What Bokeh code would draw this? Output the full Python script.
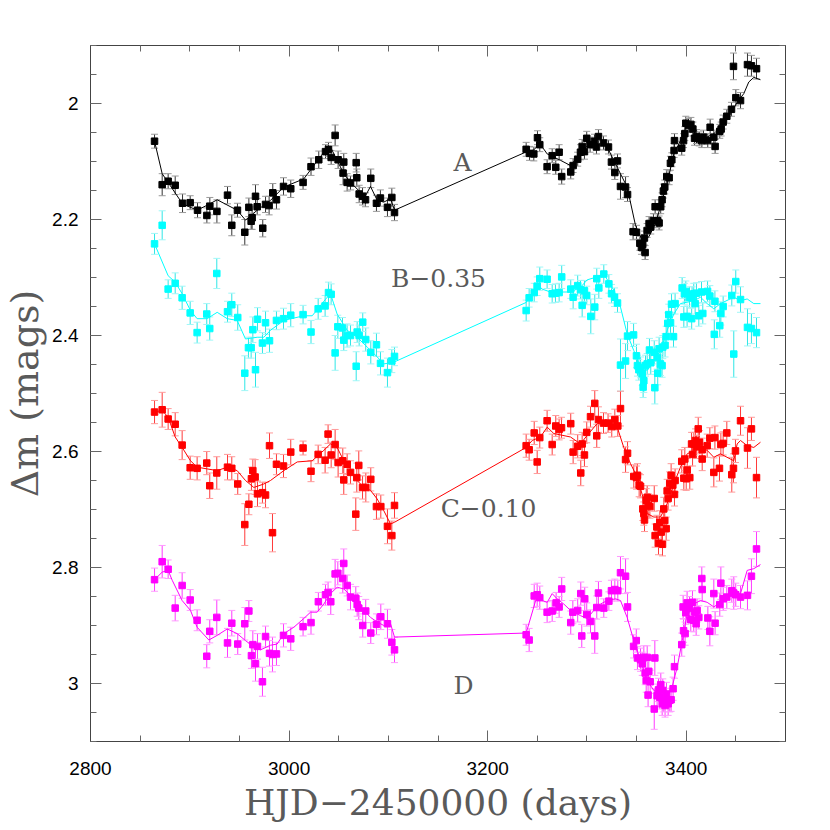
from bokeh.plotting import figure
from bokeh.models import (ColumnDataSource, Range1d, FixedTicker, LinearAxis,
                          Whisker, TeeHead, CustomJSTickFormatter)
from bokeh.core.properties import value
from bokeh.embed import file_html
from bokeh.resources import INLINE

# ---------------- data: (HJD-2450000, delta m, error) ----------------
A_s1 = [(2864.5,2.065,.012),(2872.2,2.140,.019),(2878.2,2.134,.013),(2885.3,2.141,.016),(2892.7,2.172,.016),
        (2900.4,2.171,.012),(2907.8,2.184,.013),(2917.2,2.193,.013),(2920.2,2.177,.015),(2927.3,2.186,.020),
        (2938.0,2.158,.015),(2942.3,2.210,.018),(2948.0,2.184,.012),(2955.4,2.222,.022),(2959.5,2.179,.016),
        (2961.8,2.203,.014),(2962.8,2.197,.020),(2966.2,2.160,.020),(2967.9,2.178,.014),(2973.5,2.215,.015),
        (2976.3,2.174,.014),(2979.9,2.176,.016),(2983.6,2.154,.016),(2987.3,2.166,.016),(2994.4,2.143,.015),
        (3001.7,2.147,.015),(3014.1,2.136,.012),(3022.1,2.109,.015),(3029.9,2.097,.015),(3036.7,2.083,.012),
        (3039.7,2.079,.012),(3042.4,2.093,.012),(3046.4,2.055,.018),(3049.4,2.097,.015),(3054.4,2.120,.020),
        (3055.1,2.101,.015),(3058.5,2.136,.015),(3061.9,2.137,.012),(3067.6,2.102,.016),(3068.2,2.128,.015),
        (3070.6,2.156,.015),(3074.0,2.160,.015),(3077.0,2.166,.012),(3082.3,2.129,.016),(3088.0,2.172,.014),
        (3092.0,2.163,.014),(3099.1,2.179,.016),(3103.5,2.162,.016),(3106.2,2.188,.014)]
A_s2 = [(3238.8,2.079,.012),(3242.2,2.086,.012),(3246.5,2.087,.012),(3250.2,2.059,.012),(3252.5,2.071,.012),
        (3259.9,2.109,.012),(3265.0,2.090,.012),(3268.6,2.110,.012),(3272.0,2.084,.013),(3274.6,2.126,.013),
        (3283.7,2.118,.012),(3286.1,2.107,.012),(3290.7,2.096,.012),(3293.5,2.084,.013),(3295.2,2.074,.012),
        (3297.5,2.083,.013),(3299.8,2.060,.012),(3303.2,2.071,.013),(3307.6,2.065,.012),(3309.6,2.075,.012),
        (3311.6,2.057,.012),(3316.7,2.068,.012),(3321.7,2.075,.012),(3324.7,2.101,.012),(3328.1,2.119,.012),
        (3330.8,2.099,.012),(3333.8,2.143,.022),(3338.9,2.144,.018),(3340.9,2.157,.012),(3346.5,2.221,.014),
        (3349.9,2.222,.012),(3353.3,2.241,.012),(3354.9,2.248,.012),(3356.2,2.243,.012),(3357.9,2.232,.012),
        (3358.6,2.257,.012),(3360.6,2.219,.012),(3362.6,2.207,.012),(3364.3,2.213,.012),(3367.0,2.202,.012),
        (3368.7,2.178,.012),(3371.3,2.202,.012),(3372.7,2.206,.012),(3374.3,2.178,.012),(3375.7,2.166,.012),
        (3377.0,2.151,.012),(3378.4,2.144,.012),(3380.4,2.126,.012),(3382.8,2.128,.012),(3384.1,2.103,.012),
        (3385.5,2.097,.012),(3387.8,2.081,.012),(3388.2,2.064,.012),(3395.5,2.077,.012),(3397.3,2.064,.012),
        (3398.6,2.052,.012),(3399.6,2.034,.012),(3402.3,2.038,.012),(3404.7,2.036,.012),(3406.7,2.044,.012),
        (3408.4,2.060,.012),(3410.4,2.057,.012),(3413.1,2.061,.012),(3415.7,2.064,.012),(3417.4,2.058,.012),
        (3421.7,2.064,.012),(3424.1,2.041,.014),(3427.8,2.058,.012),(3429.1,2.074,.012),(3433.8,2.048,.012),
        (3435.2,2.044,.012),(3437.2,2.032,.012),(3440.9,2.022,.012),(3445.6,2.010,.012),(3447.6,1.936,.023),
        (3450.0,1.990,.014),(3454.7,1.995,.014),(3461.7,1.933,.020),(3465.7,1.935,.018),(3470.8,1.940,.018)]
A_model = [(2864.5,2.065),(2872.2,2.121),(2892.7,2.173),(2907.4,2.184),(2920.2,2.173),(2927.6,2.166),
           (2947.7,2.184),(2956.1,2.201),(2967.9,2.184),(2981.3,2.167),(2994.7,2.144),(3014.8,2.130),
           (3035.0,2.084),(3041.7,2.075),(3048.4,2.098),(3055.1,2.121),(3061.9,2.136),(3071.9,2.153),
           (3077.0,2.159),(3082.0,2.143),(3088.8,2.167),(3095.4,2.170),(3102.2,2.164),(3106.2,2.184),
           (3238.1,2.084),(3246.5,2.080),(3252.5,2.069),(3260.0,2.087),(3273.4,2.098),(3283.5,2.107),
           (3296.9,2.078),(3312.0,2.058),(3320.4,2.075),(3330.5,2.110),(3340.5,2.144),(3348.9,2.210),
           (3355.7,2.236),(3362.3,2.230),(3369.1,2.207),(3375.8,2.167),(3380.8,2.138),(3387.5,2.087),
           (3396.0,2.058),(3401.0,2.035),(3407.6,2.049),(3417.7,2.061),(3427.8,2.052),(3436.2,2.038),
           (3444.6,2.018),(3451.3,1.998),(3458.0,1.983),(3463.0,1.963),(3468.1,1.955),(3474.8,1.959)]

B_s1 = [(2864.5,2.242,.018),(2872.2,2.210,.025),(2878.2,2.320,.016),(2885.3,2.310,.018),(2892.3,2.335,.020),
        (2900.4,2.361,.020),(2907.4,2.395,.018),(2917.1,2.363,.018),(2920.1,2.388,.020),(2927.2,2.293,.026),
        (2938.0,2.359,.018),(2942.3,2.347,.020),(2948.3,2.369,.022),(2955.4,2.465,.030),(2959.1,2.421,.018),
        (2961.8,2.421,.018),(2963.5,2.390,.022),(2966.2,2.459,.030),(2968.2,2.372,.020),(2973.2,2.413,.018),
        (2976.3,2.378,.020),(2980.3,2.409,.020),(2987.3,2.374,.016),(2994.4,2.371,.018),(3001.7,2.365,.020),
        (3014.1,2.364,.016),(3022.1,2.394,.020),(3029.3,2.354,.018),(3036.3,2.349,.018),(3039.7,2.326,.018),
        (3042.4,2.329,.018),(3046.4,2.430,.030),(3049.1,2.385,.020),(3053.8,2.387,.018),(3055.1,2.408,.018),
        (3058.5,2.400,.020),(3061.9,2.400,.018),(3067.6,2.453,.025),(3068.6,2.394,.018),(3070.6,2.400,.018),
        (3074.2,2.377,.016),(3077.2,2.407,.020),(3082.3,2.429,.020),(3088.0,2.416,.020),(3092.1,2.448,.020),
        (3099.1,2.464,.025),(3103.5,2.444,.020),(3106.2,2.436,.016)]
B_s2 = [(3238.8,2.357,.018),(3241.8,2.335,.016),(3246.9,2.326,.016),(3249.9,2.315,.016),(3252.5,2.302,.020),
        (3259.9,2.303,.016),(3265.0,2.328,.016),(3268.3,2.327,.016),(3272.0,2.326,.016),(3274.6,2.299,.020),
        (3283.7,2.320,.016),(3286.1,2.334,.020),(3290.7,2.314,.018),(3293.5,2.321,.016),(3295.2,2.348,.020),
        (3297.5,2.323,.018),(3299.8,2.331,.016),(3303.9,2.367,.030),(3307.9,2.351,.022),(3309.9,2.302,.018),
        (3312.0,2.318,.018),(3317.0,2.294,.016),(3322.1,2.311,.016),(3324.8,2.328,.016),(3327.8,2.334,.016),
        (3330.8,2.344,.016),(3333.8,2.451,.045),(3338.9,2.444,.030),(3340.9,2.401,.025),(3347.0,2.399,.020),
        (3349.9,2.435,.020),(3350.9,2.452,.018),(3352.3,2.459,.018),(3354.0,2.455,.018),(3355.7,2.466,.020),
        (3357.3,2.478,.020),(3356.6,2.489,.018),(3359.0,2.452,.018),(3360.7,2.449,.018),(3363.0,2.425,.020),
        (3364.3,2.447,.020),(3367.8,2.429,.020),(3368.4,2.490,.028),(3370.7,2.438,.020),(3371.3,2.465,.020),
        (3372.7,2.423,.020),(3374.1,2.449,.020),(3375.7,2.452,.020),(3376.4,2.420,.020),(3378.7,2.417,.020),
        (3379.8,2.402,.018),(3381.4,2.379,.018),(3382.4,2.364,.018),(3384.2,2.378,.018),(3385.2,2.346,.018),
        (3387.2,2.402,.018),(3388.8,2.345,.018),(3395.9,2.318,.018),(3398.2,2.328,.018),(3397.6,2.368,.018),
        (3399.6,2.324,.018),(3400.9,2.367,.018),(3403.3,2.334,.018),(3405.5,2.371,.018),(3405.9,2.334,.018),
        (3407.6,2.328,.018),(3409.0,2.345,.018),(3410.3,2.327,.018),(3412.7,2.366,.018),(3415.4,2.325,.018),
        (3416.7,2.362,.018),(3421.5,2.324,.018),(3423.8,2.332,.018),(3428.3,2.398,.025),(3428.9,2.341,.018),
        (3433.8,2.383,.020),(3434.9,2.362,.020),(3437.2,2.350,.018),(3445.9,2.331,.018),(3447.9,2.432,.040),
        (3449.9,2.307,.020),(3454.7,2.338,.022),(3461.7,2.386,.032),(3465.7,2.388,.026),(3470.8,2.395,.026)]
B_model = [(2864.5,2.242),(2878.2,2.297),(2885.3,2.308),(2892.3,2.328),(2900.7,2.357),(2907.4,2.371),
           (2917.5,2.371),(2927.6,2.360),(2937.7,2.371),(2947.7,2.374),(2956.1,2.406),(2967.9,2.403),
           (2974.6,2.403),(2981.3,2.391),(2994.7,2.374),(3014.8,2.366),(3023.3,2.366),(3038.4,2.334),
           (3041.7,2.328),(3048.4,2.363),(3058.5,2.391),(3068.6,2.403),(3078.7,2.420),(3088.8,2.437),
           (3095.4,2.449),(3105.5,2.446),
           (3238.8,2.343),(3249.9,2.311),(3254.9,2.320),(3263.3,2.325),(3283.5,2.325),(3293.5,2.317),
           (3300.3,2.304),(3310.3,2.299),(3317.0,2.294),(3327.1,2.322),(3333.8,2.351),(3340.5,2.397),
           (3347.2,2.426),(3354.0,2.455),(3360.7,2.460),(3367.4,2.443),(3374.1,2.426),(3380.8,2.391),
           (3387.5,2.363),(3394.2,2.345),(3407.6,2.340),(3414.4,2.334),(3421.1,2.345),(3427.8,2.354),
           (3434.5,2.345),(3447.9,2.334),(3454.7,2.340),(3461.4,2.337),(3468.1,2.345),(3474.8,2.345)]

C_s1 = [(2864.5,2.532,.020),(2872.2,2.528,.030),(2878.2,2.544,.018),(2885.3,2.553,.020),(2892.3,2.589,.025),
        (2900.4,2.628,.020),(2907.4,2.629,.020),(2917.1,2.620,.020),(2920.1,2.659,.022),(2927.2,2.637,.028),
        (2938.0,2.627,.022),(2942.3,2.629,.020),(2948.3,2.656,.018),(2955.4,2.726,.036),(2959.5,2.691,.018),
        (2962.1,2.647,.020),(2963.5,2.633,.020),(2965.8,2.644,.030),(2968.2,2.673,.022),(2973.2,2.671,.018),
        (2976.3,2.675,.022),(2980.3,2.590,.022),(2983.3,2.740,.033),(2987.3,2.622,.018),(2994.4,2.625,.020),
        (3001.7,2.601,.022),(3014.1,2.594,.012),(3022.1,2.634,.018),(3029.3,2.605,.016),(3036.3,2.615,.022),
        (3039.3,2.570,.016),(3042.4,2.606,.022),(3046.4,2.588,.026),(3049.4,2.619,.025),(3054.1,2.616,.022),
        (3055.1,2.649,.025),(3058.5,2.622,.018),(3061.9,2.636,.020),(3067.2,2.708,.028),(3068.2,2.645,.025),
        (3070.2,2.624,.025),(3074.0,2.662,.020),(3077.3,2.662,.025),(3082.3,2.648,.020),(3088.0,2.695,.022),
        (3092.4,2.695,.020),(3099.1,2.729,.030),(3103.5,2.745,.025),(3106.2,2.693,.022)]
C_s2 = [(3238.8,2.590,.020),(3241.8,2.597,.018),(3246.9,2.568,.020),(3249.9,2.618,.020),(3252.5,2.576,.018),
        (3259.9,2.547,.018),(3265.0,2.588,.018),(3268.6,2.556,.018),(3272.0,2.562,.018),(3274.4,2.559,.018),
        (3283.7,2.552,.018),(3286.1,2.601,.020),(3290.7,2.591,.020),(3293.8,2.637,.022),(3295.2,2.587,.020),
        (3297.5,2.606,.020),(3299.8,2.567,.018),(3303.6,2.540,.018),(3307.9,2.517,.022),(3309.9,2.573,.020),
        (3311.6,2.545,.022),(3316.7,2.551,.018),(3321.3,2.551,.016),(3325.0,2.557,.018),(3328.1,2.545,.018),
        (3331.1,2.556,.018),(3333.8,2.526,.030),(3338.9,2.614,.022),(3340.9,2.603,.020),(3347.2,2.643,.020),
        (3349.9,2.645,.020),(3350.9,2.641,.020),(3352.6,2.658,.020),(3354.0,2.660,.020),(3356.3,2.699,.020),
        (3357.3,2.707,.020),(3358.0,2.718,.020),(3359.7,2.684,.020),(3360.7,2.679,.020),(3361.8,2.693,.020),
        (3363.4,2.695,.020),(3367.8,2.681,.022),(3368.7,2.745,.020),(3370.4,2.730,.020),(3372.1,2.758,.020),
        (3373.4,2.722,.020),(3374.8,2.739,.020),(3376.1,2.760,.020),(3377.4,2.699,.020),(3378.4,2.719,.020),
        (3379.8,2.733,.020),(3380.8,2.668,.020),(3381.8,2.681,.020),(3383.4,2.655,.020),(3384.8,2.641,.020),
        (3386.5,2.658,.020),(3388.2,2.674,.020),(3388.8,2.650,.020),(3395.5,2.617,.020),(3397.6,2.646,.020),
        (3398.6,2.613,.020),(3400.0,2.647,.020),(3401.0,2.632,.020),(3403.6,2.645,.020),(3405.4,2.587,.020),
        (3406.4,2.605,.020),(3407.7,2.587,.020),(3409.4,2.581,.020),(3410.4,2.592,.020),(3412.1,2.561,.020),
        (3413.4,2.584,.020),(3416.1,2.597,.020),(3416.1,2.613,.020),(3421.1,2.590,.020),(3423.8,2.577,.018),
        (3427.8,2.636,.025),(3428.9,2.576,.020),(3433.5,2.629,.022),(3434.9,2.588,.020),(3437.2,2.586,.020),
        (3440.9,2.568,.020),(3445.9,2.640,.030),(3447.6,2.629,.025),(3449.6,2.599,.020),(3454.7,2.547,.025),
        (3461.7,2.594,.035),(3465.7,2.561,.020),(3470.8,2.645,.035)]
C_model = [(2864.5,2.532),(2872.2,2.529),(2878.2,2.541),(2885.3,2.575),(2892.3,2.593),(2900.7,2.616),
           (2907.4,2.627),(2917.5,2.630),(2927.6,2.633),(2937.7,2.627),(2947.7,2.633),(2956.1,2.650),
           (2964.5,2.662),(2974.6,2.656),(2981.3,2.650),(2994.7,2.633),(3008.2,2.618),(3023.3,2.616),
           (3035.0,2.598),(3041.7,2.587),(3048.4,2.593),(3055.1,2.616),(3061.9,2.633),(3068.6,2.650),
           (3075.3,2.662),(3082.0,2.667),(3088.8,2.682),(3095.4,2.702),(3102.2,2.725),(3106.2,2.722),
           (3238.8,2.593),(3244.9,2.581),(3253.2,2.575),(3260.0,2.558),(3266.6,2.569),(3283.5,2.575),
           (3293.5,2.587),(3300.3,2.572),(3310.3,2.552),(3323.7,2.552),(3330.5,2.558),(3337.1,2.593),
           (3343.9,2.621),(3350.6,2.644),(3357.3,2.684),(3360.7,2.707),(3367.4,2.713),(3374.1,2.713),
           (3380.8,2.690),(3387.5,2.656),(3394.2,2.627),(3401.0,2.604),(3414.4,2.593),(3421.1,2.598),
           (3427.8,2.610),(3434.5,2.604),(3447.9,2.616),(3451.3,2.587),(3454.7,2.581),(3461.4,2.590),
           (3468.1,2.593),(3474.8,2.584)]

D_s1 = [(2864.5,2.821,.020),(2872.2,2.790,.028),(2878.2,2.803,.016),(2885.3,2.870,.022),(2892.3,2.831,.022),
        (2900.4,2.856,.018),(2907.4,2.891,.018),(2917.1,2.953,.020),(2920.1,2.910,.020),(2927.2,2.886,.030),
        (2938.0,2.930,.025),(2942.3,2.896,.022),(2948.3,2.932,.018),(2955.4,2.897,.028),(2959.5,2.875,.018),
        (2962.1,2.952,.022),(2963.5,2.933,.024),(2966.2,2.966,.030),(2968.2,2.936,.022),(2973.2,2.997,.025),
        (2976.3,2.919,.018),(2980.3,2.948,.022),(2983.3,2.950,.030),(2987.3,2.949,.020),(2994.4,2.917,.020),
        (3001.7,2.923,.020),(3014.1,2.902,.016),(3022.1,2.895,.020),(3029.5,2.859,.016),(3036.7,2.847,.018),
        (3039.3,2.843,.018),(3042.0,2.859,.022),(3046.4,2.811,.025),(3049.1,2.810,.020),(3054.1,2.819,.025),
        (3055.1,2.793,.025),(3058.5,2.831,.018),(3061.9,2.851,.022),(3067.2,2.853,.020),(3068.6,2.864,.020),
        (3070.2,2.870,.020),(3074.2,2.900,.020),(3077.2,2.875,.020),(3082.3,2.913,.018),(3088.0,2.898,.018),
        (3092.4,2.885,.022),(3099.1,2.897,.025),(3103.5,2.929,.022),(3106.2,2.942,.022)]
D_s2 = [(3238.8,2.916,.018),(3241.8,2.925,.020),(3246.9,2.849,.020),(3249.9,2.847,.020),(3252.5,2.852,.020),
        (3259.9,2.877,.018),(3265.0,2.875,.018),(3269.0,2.861,.018),(3272.0,2.868,.018),(3274.6,2.837,.020),
        (3283.7,2.895,.020),(3285.8,2.877,.020),(3290.7,2.874,.020),(3293.8,2.845,.020),(3294.8,2.918,.020),
        (3297.8,2.854,.020),(3299.8,2.881,.020),(3303.6,2.893,.020),(3307.9,2.918,.030),(3309.9,2.869,.020),
        (3311.6,2.844,.020),(3317.0,2.870,.016),(3322.1,2.858,.016),(3324.7,2.840,.018),(3328.1,2.838,.018),
        (3331.1,2.840,.018),(3333.8,2.809,.028),(3338.9,2.815,.030),(3340.9,2.868,.025),(3347.0,2.936,.020),
        (3349.7,2.926,.020),(3350.9,2.956,.020),(3354.0,2.959,.020),(3355.7,2.966,.020),(3357.3,2.955,.020),
        (3358.7,2.982,.020),(3360.7,2.955,.020),(3359.7,2.995,.020),(3362.3,2.979,.020),(3361.6,3.020,.020),
        (3363.7,2.997,.020),(3367.8,3.044,.035),(3368.4,2.956,.030),(3370.7,3.021,.020),(3372.1,3.011,.020),
        (3373.4,3.024,.020),(3374.4,3.002,.020),(3375.8,3.035,.020),(3376.4,3.012,.020),(3377.4,3.029,.020),
        (3378.7,3.038,.020),(3380.1,3.018,.020),(3381.8,3.035,.020),(3383.4,3.029,.020),(3384.8,3.028,.020),
        (3386.8,3.009,.020),(3388.2,2.971,.020),(3395.5,2.933,.020),(3397.3,2.909,.020),(3398.9,2.914,.020),
        (3396.9,2.868,.020),(3399.6,2.878,.020),(3400.9,2.861,.020),(3403.3,2.870,.020),(3404.6,2.890,.020),
        (3406.3,2.860,.020),(3407.6,2.891,.020),(3408.7,2.877,.020),(3410.0,2.897,.020),(3411.0,2.874,.020),
        (3412.7,2.886,.020),(3415.7,2.819,.020),(3416.1,2.838,.020),(3421.8,2.887,.020),(3423.8,2.910,.025),
        (3427.8,2.845,.025),(3429.1,2.896,.020),(3433.8,2.864,.020),(3434.9,2.827,.028),(3437.3,2.854,.020),
        (3440.9,2.851,.020),(3445.9,2.840,.020),(3447.9,2.844,.028),(3449.9,2.847,.020),(3454.7,2.851,.020),
        (3461.7,2.848,.025),(3465.7,2.815,.030),(3470.8,2.768,.030)]
D_model = [(2864.5,2.821),(2872.2,2.808),(2878.2,2.805),(2882.3,2.822),(2892.3,2.857),(2900.7,2.874),
           (2907.4,2.903),(2919.2,2.925),(2927.6,2.917),(2937.7,2.906),(2947.7,2.914),(2956.1,2.926),
           (2964.5,2.937),(2971.2,2.942),(2981.3,2.934),(2988.0,2.932),(2994.7,2.914),(3004.8,2.903),
           (3014.8,2.888),(3021.6,2.877),(3028.3,2.877),(3035.0,2.863),(3041.7,2.845),(3048.4,2.834),
           (3055.1,2.837),(3061.9,2.848),(3068.6,2.857),(3075.3,2.874),(3082.0,2.886),(3088.8,2.894),
           (3095.4,2.900),(3102.2,2.897),(3106.2,2.920),
           (3238.8,2.913),(3246.5,2.868),(3249.9,2.848),(3254.9,2.857),(3260.0,2.860),(3265.0,2.845),
           (3270.0,2.854),(3276.7,2.863),(3283.5,2.874),(3293.5,2.883),(3300.3,2.888),(3306.9,2.874),
           (3313.7,2.863),(3320.4,2.857),(3328.8,2.854),(3333.8,2.857),(3340.5,2.886),(3347.2,2.926),
           (3354.0,2.960),(3360.7,2.995),(3367.4,3.012),(3374.1,3.018),(3380.8,3.024),(3385.8,3.006),
           (3390.9,2.972),(3396.0,2.926),(3401.0,2.880),(3407.6,2.863),(3414.4,2.857),(3421.1,2.860),
           (3427.8,2.868),(3434.5,2.860),(3441.2,2.851),(3447.9,2.848),(3454.7,2.845),(3461.4,2.805),
           (3468.1,2.802),(3474.8,2.795)]

series_names = ["A", "B", "C", "D"]
label_text = ["A", "B\u22120.35", "C\u22120.10", "D"]
label_x = [3174.7, 3150.5, 3200.9, 3175.7]
label_y = [2.102, 2.302, 2.698, 3.003]

x_major = [2800, 3000, 3200, 3400]
y_major = [2.0, 2.2, 2.4, 2.6, 2.8, 3.0]

# ---------------- styling ----------------
colors = {"A": ("#000000", "#333333", "#9a9a9a"),
          "B": ("#00ffff", "#2ee6e6", "#a0f7f7"),
          "C": ("#ff0000", "#ff3a3a", "#ff9a9a"),
          "D": ("#ff00ff", "#ff3aff", "#ff9aff")}
points = {"A": A_s1 + A_s2, "B": B_s1 + B_s2, "C": C_s1 + C_s2, "D": D_s1 + D_s2}
models = {"A": A_model, "B": B_model, "C": C_model, "D": D_model}

p = figure(frame_width=695, frame_height=696,
           x_range=Range1d(2800, 3500), y_range=Range1d(3.1, 1.9),
           output_backend="svg", toolbar_location=None,
           min_border_left=82, min_border_top=45, min_border_right=15, min_border_bottom=40)
p.grid.visible = False
p.outline_line_color = "#444444"
p.background_fill_color = "white"
p.border_fill_color = "white"

x_minor = list(range(2800, 3501, 50))
y_minor = [round(1.9 + 0.05 * i, 2) for i in range(25)]
xt = FixedTicker(ticks=x_major, minor_ticks=x_minor)
yt = FixedTicker(ticks=y_major, minor_ticks=y_minor)
yfmt = CustomJSTickFormatter(code="return (Math.round(tick*10)/10).toString();")
blank = CustomJSTickFormatter(code="return '';")


def style(ax, ticker):
    ax.ticker = ticker
    ax.major_tick_in = 11
    ax.major_tick_out = 0
    ax.minor_tick_in = 6
    ax.minor_tick_out = 0
    ax.axis_line_color = "#444444"
    ax.major_tick_line_color = "#666666"
    ax.minor_tick_line_color = "#666666"
    ax.major_label_text_font = "Liberation Sans"
    ax.major_label_text_color = "black"
    ax.major_label_text_font_size = "19px"


style(p.xaxis[0], xt)
style(p.yaxis[0], yt)
p.yaxis[0].formatter = yfmt
p.xaxis[0].major_label_standoff = 20
p.yaxis[0].major_label_standoff = 12
p.xaxis[0].axis_label = "HJD\u22122450000 (days)"
p.yaxis[0].axis_label = "\u0394m (mags)"
for ax in (p.xaxis[0], p.yaxis[0]):
    ax.axis_label_text_font = "DejaVu Serif"
    ax.axis_label_text_font_style = "normal"
    ax.axis_label_text_color = "#5a5a5a"
p.xaxis[0].axis_label_standoff = 4
p.yaxis[0].axis_label_standoff = 2
p.xaxis[0].axis_label_text_font_size = "36px"
p.yaxis[0].axis_label_text_font_size = "38px"

top = LinearAxis(formatter=blank)
right = LinearAxis(formatter=blank)
style(top, xt)
style(right, yt)
top.major_label_standoff = 0
right.major_label_standoff = 0
p.add_layout(top, "above")
p.add_layout(right, "right")

for name in series_names:
    mark, bar, cap = colors[name]
    pts = points[name]
    src = ColumnDataSource(dict(x=[t[0] for t in pts], y=[t[1] for t in pts],
                                lo=[t[1] - t[2] for t in pts], hi=[t[1] + t[2] for t in pts]))
    w = Whisker(source=src, base="x", lower="lo", upper="hi", dimension="height",
                line_color=bar, line_width=1,
                lower_head=TeeHead(size=7, line_color=cap, line_width=1),
                upper_head=TeeHead(size=7, line_color=cap, line_width=1))
    p.add_layout(w)
    m = models[name]
    p.line([t[0] for t in m], [t[1] for t in m], line_color=mark, line_width=1)
    p.scatter("x", "y", source=src, marker="square", size=6.5, fill_color=mark, line_color=mark)

lab_src = ColumnDataSource(dict(x=label_x, y=label_y, t=label_text))
p.text("x", "y", text="t", source=lab_src, text_font=value("DejaVu Serif"),
       text_font_size="25px", text_color="#5a5a5a", text_align="center", text_baseline="middle")

open("out.html", "w").write(file_html(p, INLINE))
